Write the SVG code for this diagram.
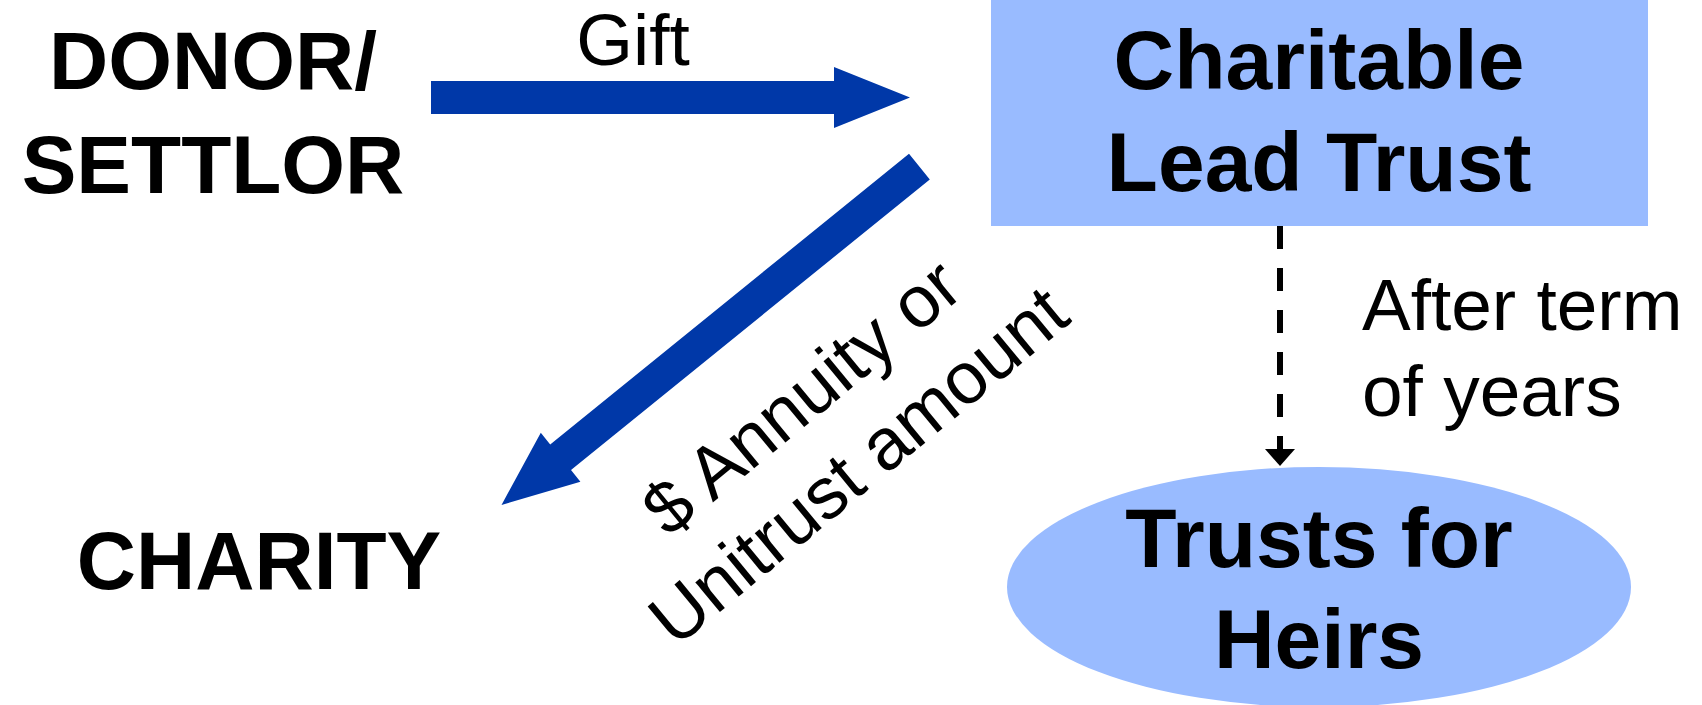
<svg xmlns="http://www.w3.org/2000/svg" width="1702" height="705" viewBox="0 0 1702 705">
  <style>
    .bold { font-family: "Liberation Sans", Arial, sans-serif; font-weight: bold; font-size: 82px; fill: #000; text-anchor: middle; }
    .lbl { font-family: "Liberation Sans", Arial, sans-serif; font-size: 73px; fill: #000; }
    .node-fill { fill: #99BBFF; }
    .flow { fill: #0038A8; }
    .dash { stroke: #000; stroke-width: 6; stroke-dasharray: 23 19; fill: none; }
  </style>
  <defs>
    <marker id="ah" markerUnits="userSpaceOnUse" markerWidth="18" markerHeight="30" refX="17" refY="15" orient="auto" viewBox="0 0 18 30">
      <path d="M0,0 L17,15 L0,30 Z" fill="#000"/>
    </marker>
  </defs>
  <rect width="1702" height="705" fill="#fff"/>

  <g id="donor">
    <text class="bold" x="213" y="89">DONOR/</text>
    <text class="bold" x="213" y="193">SETTLOR</text>
  </g>

  <g id="charity">
    <text class="bold" x="259" y="589">CHARITY</text>
  </g>

  <g id="clt">
    <rect class="node-fill" x="991" y="0" width="657" height="226"/>
    <text class="bold" x="1319" y="89" style="font-size:84px">Charitable</text>
    <text class="bold" x="1319" y="191" style="font-size:84px">Lead Trust</text>
  </g>

  <g id="heirs">
    <ellipse class="node-fill" cx="1319" cy="587" rx="312" ry="120"/>
    <text class="bold" x="1319" y="567" style="font-size:84px">Trusts for</text>
    <text class="bold" x="1319" y="668" style="font-size:84px">Heirs</text>
  </g>

  <g id="connectors">
    <polygon class="flow" points="431,81 834,81 834,67 910,97.5 834,128 834,114 431,114"/>
    <text class="lbl" x="633" y="65" text-anchor="middle">Gift</text>

    <polygon class="flow" points="909,153.8 929.8,179.4 571,470 580.4,481.7 501.5,505 540.8,432.7 550.2,444.4"/>
    <g transform="translate(829,430) rotate(-39.5)">
      <text class="lbl" x="0" y="-18" text-anchor="middle">$ Annuity or</text>
      <text class="lbl" x="0" y="71" text-anchor="middle">Unitrust amount</text>
    </g>

    <line class="dash" x1="1280" y1="226" x2="1280" y2="466" marker-end="url(#ah)"/>
    <text class="lbl" x="1362" y="330">After term</text>
    <text class="lbl" x="1362" y="416">of years</text>
  </g>
</svg>
